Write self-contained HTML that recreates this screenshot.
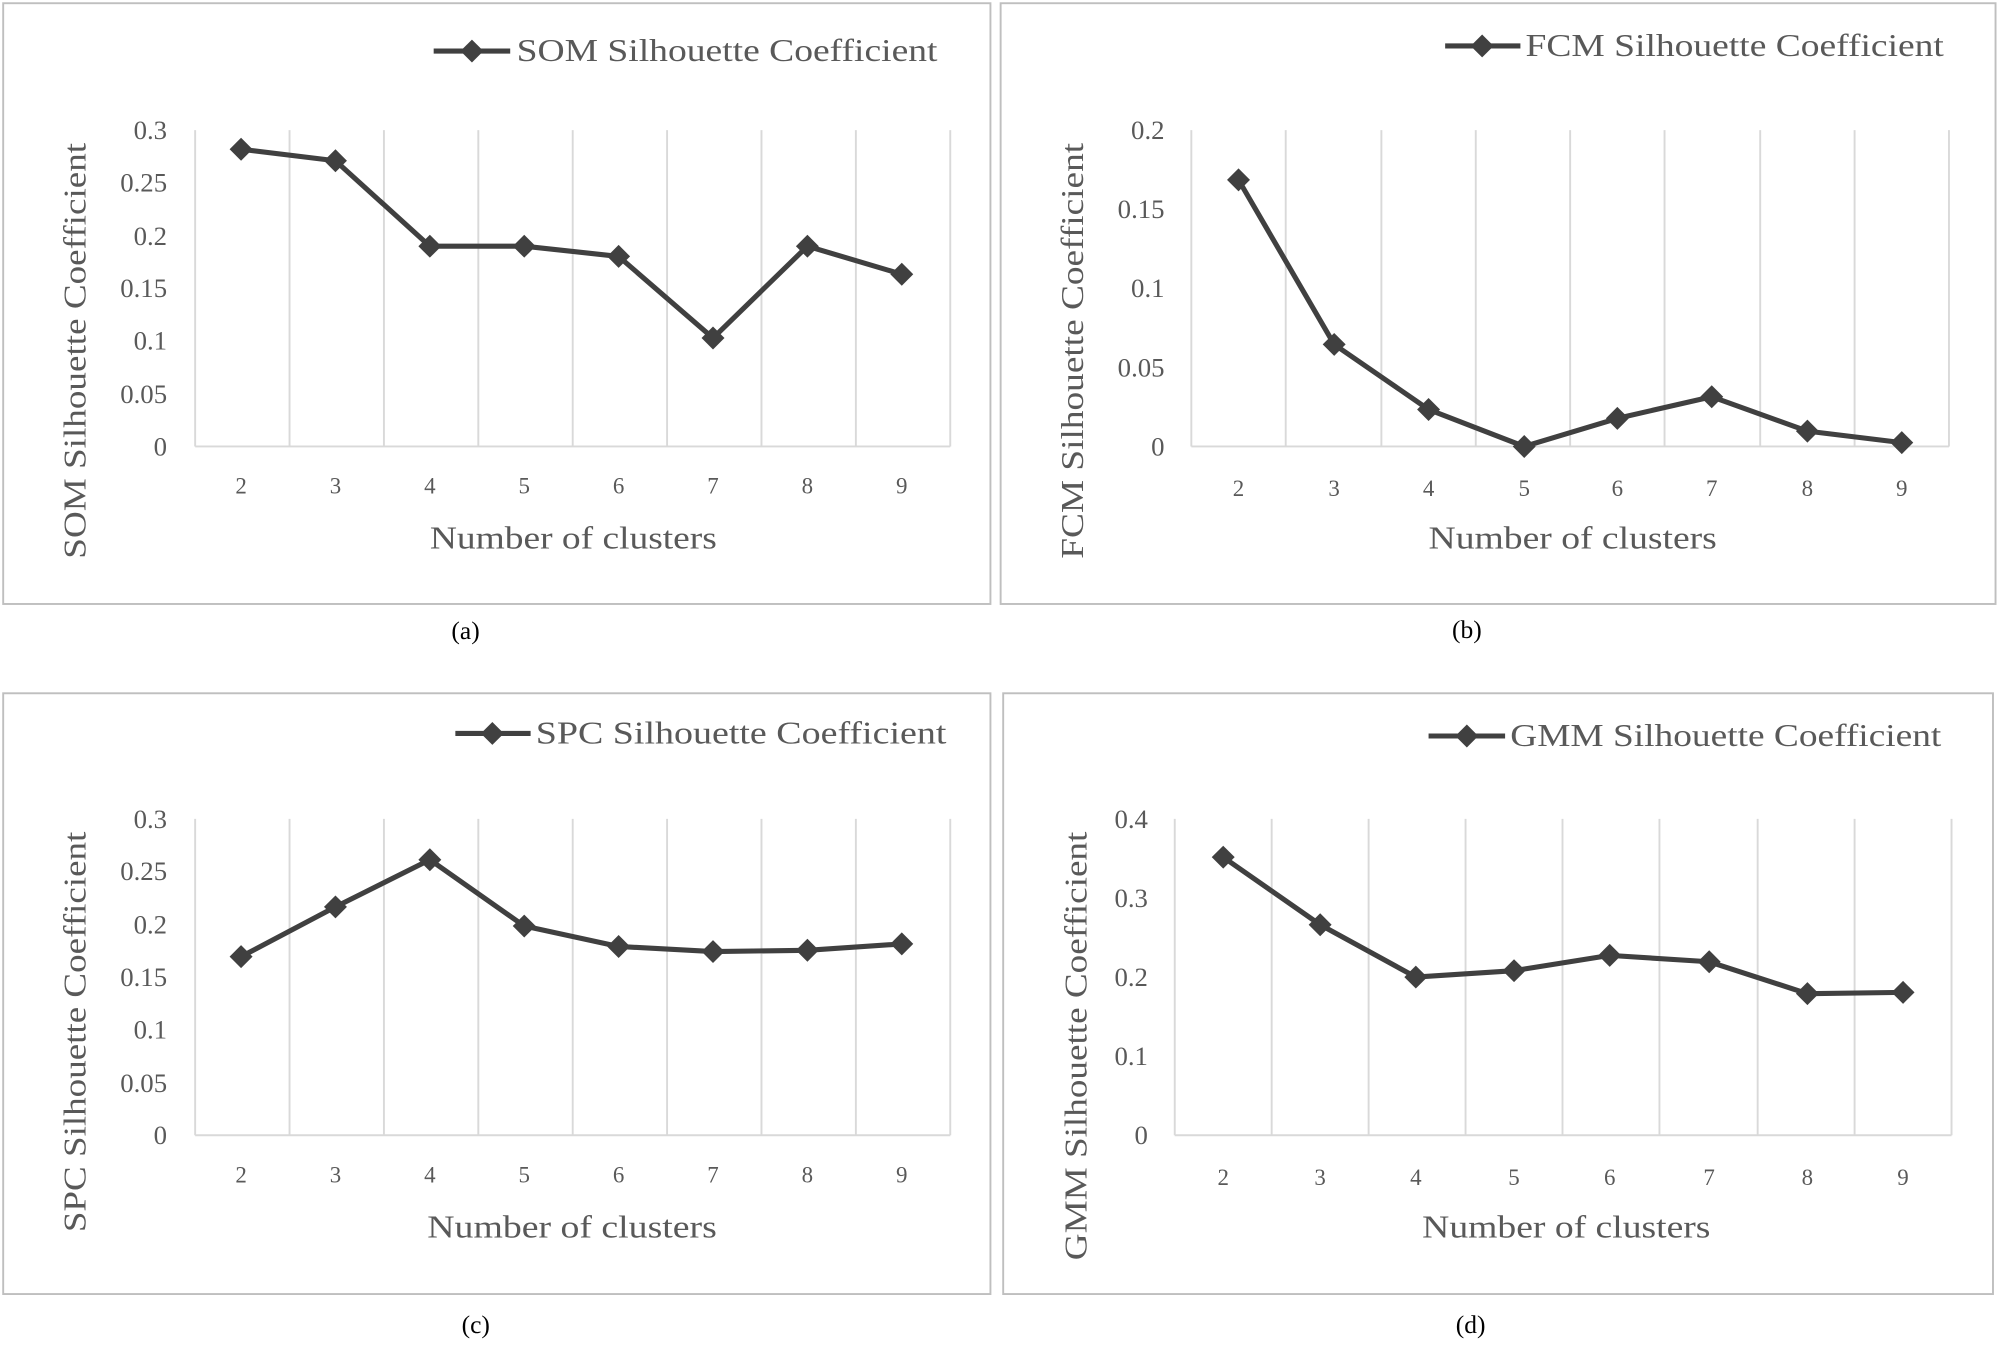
<!DOCTYPE html>
<html><head><meta charset="utf-8"><style>
html,body{margin:0;padding:0;background:#fff}
svg{display:block}
text{font-family:"Liberation Serif",serif;fill:#595959}
</style></head><body>
<svg width="2000" height="1347" viewBox="0 0 1568 1056" xmlns="http://www.w3.org/2000/svg">
<defs>
<path id="dm" d="M0,-9 L9,0 L0,9 L-9,0 Z" fill="#404040"/>
</defs>
<rect x="0" y="0" width="1568" height="1056" fill="#fff"/>

<!-- Panel a -->
<rect x="2.5" y="2.5" width="774" height="471" fill="none" stroke="#bfbfbf" stroke-width="1.5"/>
<g stroke="#d9d9d9" stroke-width="1.5">
<line x1="153" y1="102" x2="153" y2="350"/><line x1="227" y1="102" x2="227" y2="350"/><line x1="301" y1="102" x2="301" y2="350"/><line x1="375" y1="102" x2="375" y2="350"/><line x1="449" y1="102" x2="449" y2="350"/><line x1="523" y1="102" x2="523" y2="350"/><line x1="597" y1="102" x2="597" y2="350"/><line x1="671" y1="102" x2="671" y2="350"/><line x1="745" y1="102" x2="745" y2="350"/>
<line x1="153" y1="350" x2="745" y2="350"/>
</g>
<g font-size="21" text-anchor="end">
<text x="131" y="109">0.3</text><text x="131" y="150">0.25</text><text x="131" y="192">0.2</text><text x="131" y="233">0.15</text><text x="131" y="274">0.1</text><text x="131" y="316">0.05</text><text x="131" y="357">0</text>
</g>
<g font-size="18" text-anchor="middle">
<text x="189" y="387">2</text><text x="263" y="387">3</text><text x="337" y="387">4</text><text x="411" y="387">5</text><text x="485" y="387">6</text><text x="559" y="387">7</text><text x="633" y="387">8</text><text x="707" y="387">9</text>
</g>
<polyline points="189,117 263,126 337,193 411,193 485,201 559,265 633,193 707,215" fill="none" stroke="#404040" stroke-width="4" stroke-linejoin="round"/>
<g><use href="#dm" x="189" y="117"/><use href="#dm" x="263" y="126"/><use href="#dm" x="337" y="193"/><use href="#dm" x="411" y="193"/><use href="#dm" x="485" y="201"/><use href="#dm" x="559" y="265"/><use href="#dm" x="633" y="193"/><use href="#dm" x="707" y="215"/></g>
<line x1="340" y1="40" x2="400" y2="40" stroke="#404040" stroke-width="4"/><use href="#dm" x="370" y="40"/>
<text x="405" y="48" font-size="25" textLength="330" lengthAdjust="spacingAndGlyphs">SOM Silhouette Coefficient</text>
<text x="337" y="430" font-size="25" textLength="225" lengthAdjust="spacingAndGlyphs">Number of clusters</text>
<text transform="translate(67,438) rotate(-90)" font-size="25" textLength="326" lengthAdjust="spacingAndGlyphs">SOM Silhouette Coefficient</text>
<text x="365" y="501" font-size="20" text-anchor="middle" style="fill:#000">(a)</text>

<!-- Panel b -->
<rect x="784.5" y="2.5" width="780" height="471" fill="none" stroke="#bfbfbf" stroke-width="1.5"/>
<g stroke="#d9d9d9" stroke-width="1.5">
<line x1="934" y1="102" x2="934" y2="350"/><line x1="1008" y1="102" x2="1008" y2="350"/><line x1="1083" y1="102" x2="1083" y2="350"/><line x1="1157" y1="102" x2="1157" y2="350"/><line x1="1231" y1="102" x2="1231" y2="350"/><line x1="1305" y1="102" x2="1305" y2="350"/><line x1="1380" y1="102" x2="1380" y2="350"/><line x1="1454" y1="102" x2="1454" y2="350"/><line x1="1528" y1="102" x2="1528" y2="350"/>
<line x1="934" y1="350" x2="1528" y2="350"/>
</g>
<g font-size="21" text-anchor="end">
<text x="913" y="109">0.2</text><text x="913" y="171">0.15</text><text x="913" y="233">0.1</text><text x="913" y="295">0.05</text><text x="913" y="357">0</text>
</g>
<g font-size="18" text-anchor="middle">
<text x="971" y="389">2</text><text x="1046" y="389">3</text><text x="1120" y="389">4</text><text x="1195" y="389">5</text><text x="1268" y="389">6</text><text x="1342" y="389">7</text><text x="1417" y="389">8</text><text x="1491" y="389">9</text>
</g>
<polyline points="971,141 1046,270 1120,321 1195,350 1268,328 1342,311 1417,338 1491,347" fill="none" stroke="#404040" stroke-width="4" stroke-linejoin="round"/>
<g><use href="#dm" x="971" y="141"/><use href="#dm" x="1046" y="270"/><use href="#dm" x="1120" y="321"/><use href="#dm" x="1195" y="350"/><use href="#dm" x="1268" y="328"/><use href="#dm" x="1342" y="311"/><use href="#dm" x="1417" y="338"/><use href="#dm" x="1491" y="347"/></g>
<line x1="1133" y1="36" x2="1192" y2="36" stroke="#404040" stroke-width="4"/><use href="#dm" x="1162" y="36"/>
<text x="1196" y="44" font-size="25" textLength="328" lengthAdjust="spacingAndGlyphs">FCM Silhouette Coefficient</text>
<text x="1120" y="430" font-size="25" textLength="226" lengthAdjust="spacingAndGlyphs">Number of clusters</text>
<text transform="translate(849,438) rotate(-90)" font-size="25" textLength="326" lengthAdjust="spacingAndGlyphs">FCM Silhouette Coefficient</text>
<text x="1150" y="500" font-size="20" text-anchor="middle" style="fill:#000">(b)</text>

<!-- Panel c -->
<rect x="2.5" y="543.5" width="774" height="471" fill="none" stroke="#bfbfbf" stroke-width="1.5"/>
<g stroke="#d9d9d9" stroke-width="1.5">
<line x1="153" y1="642" x2="153" y2="890"/><line x1="227" y1="642" x2="227" y2="890"/><line x1="301" y1="642" x2="301" y2="890"/><line x1="375" y1="642" x2="375" y2="890"/><line x1="449" y1="642" x2="449" y2="890"/><line x1="523" y1="642" x2="523" y2="890"/><line x1="597" y1="642" x2="597" y2="890"/><line x1="671" y1="642" x2="671" y2="890"/><line x1="745" y1="642" x2="745" y2="890"/>
<line x1="153" y1="890" x2="745" y2="890"/>
</g>
<g font-size="21" text-anchor="end">
<text x="131" y="649">0.3</text><text x="131" y="690">0.25</text><text x="131" y="732">0.2</text><text x="131" y="773">0.15</text><text x="131" y="814">0.1</text><text x="131" y="856">0.05</text><text x="131" y="897">0</text>
</g>
<g font-size="18" text-anchor="middle">
<text x="189" y="927">2</text><text x="263" y="927">3</text><text x="337" y="927">4</text><text x="411" y="927">5</text><text x="485" y="927">6</text><text x="559" y="927">7</text><text x="633" y="927">8</text><text x="707" y="927">9</text>
</g>
<polyline points="189,750 263,711 337,674 411,726 485,742 559,746 633,745 707,740" fill="none" stroke="#404040" stroke-width="4" stroke-linejoin="round"/>
<g><use href="#dm" x="189" y="750"/><use href="#dm" x="263" y="711"/><use href="#dm" x="337" y="674"/><use href="#dm" x="411" y="726"/><use href="#dm" x="485" y="742"/><use href="#dm" x="559" y="746"/><use href="#dm" x="633" y="745"/><use href="#dm" x="707" y="740"/></g>
<line x1="357" y1="575" x2="416" y2="575" stroke="#404040" stroke-width="4"/><use href="#dm" x="386" y="575"/>
<text x="420" y="583" font-size="25" textLength="322" lengthAdjust="spacingAndGlyphs">SPC Silhouette Coefficient</text>
<text x="335" y="970" font-size="25" textLength="227" lengthAdjust="spacingAndGlyphs">Number of clusters</text>
<text transform="translate(67,966) rotate(-90)" font-size="25" textLength="314" lengthAdjust="spacingAndGlyphs">SPC Silhouette Coefficient</text>
<text x="373" y="1045" font-size="20" text-anchor="middle" style="fill:#000">(c)</text>

<!-- Panel d -->
<rect x="786.5" y="543.5" width="776" height="471" fill="none" stroke="#bfbfbf" stroke-width="1.5"/>
<g stroke="#d9d9d9" stroke-width="1.5">
<line x1="921" y1="642" x2="921" y2="890"/><line x1="997" y1="642" x2="997" y2="890"/><line x1="1073" y1="642" x2="1073" y2="890"/><line x1="1149" y1="642" x2="1149" y2="890"/><line x1="1225" y1="642" x2="1225" y2="890"/><line x1="1301" y1="642" x2="1301" y2="890"/><line x1="1378" y1="642" x2="1378" y2="890"/><line x1="1454" y1="642" x2="1454" y2="890"/><line x1="1530" y1="642" x2="1530" y2="890"/>
<line x1="921" y1="890" x2="1530" y2="890"/>
</g>
<g font-size="21" text-anchor="end">
<text x="900" y="649">0.4</text><text x="900" y="711">0.3</text><text x="900" y="773">0.2</text><text x="900" y="835">0.1</text><text x="900" y="897">0</text>
</g>
<g font-size="18" text-anchor="middle">
<text x="959" y="929">2</text><text x="1035" y="929">3</text><text x="1110" y="929">4</text><text x="1187" y="929">5</text><text x="1262" y="929">6</text><text x="1340" y="929">7</text><text x="1417" y="929">8</text><text x="1492" y="929">9</text>
</g>
<polyline points="959,672 1035,725 1110,766 1187,761 1262,749 1340,754 1417,779 1492,778" fill="none" stroke="#404040" stroke-width="4" stroke-linejoin="round"/>
<g><use href="#dm" x="959" y="672"/><use href="#dm" x="1035" y="725"/><use href="#dm" x="1110" y="766"/><use href="#dm" x="1187" y="761"/><use href="#dm" x="1262" y="749"/><use href="#dm" x="1340" y="754"/><use href="#dm" x="1417" y="779"/><use href="#dm" x="1492" y="778"/></g>
<line x1="1120" y1="577" x2="1180" y2="577" stroke="#404040" stroke-width="4"/><use href="#dm" x="1150" y="577"/>
<text x="1184" y="585" font-size="25" textLength="338" lengthAdjust="spacingAndGlyphs">GMM Silhouette Coefficient</text>
<text x="1115" y="970" font-size="25" textLength="226" lengthAdjust="spacingAndGlyphs">Number of clusters</text>
<text transform="translate(852,988) rotate(-90)" font-size="25" textLength="336" lengthAdjust="spacingAndGlyphs">GMM Silhouette Coefficient</text>
<text x="1153" y="1045" font-size="20" text-anchor="middle" style="fill:#000">(d)</text>
</svg>
</body></html>
